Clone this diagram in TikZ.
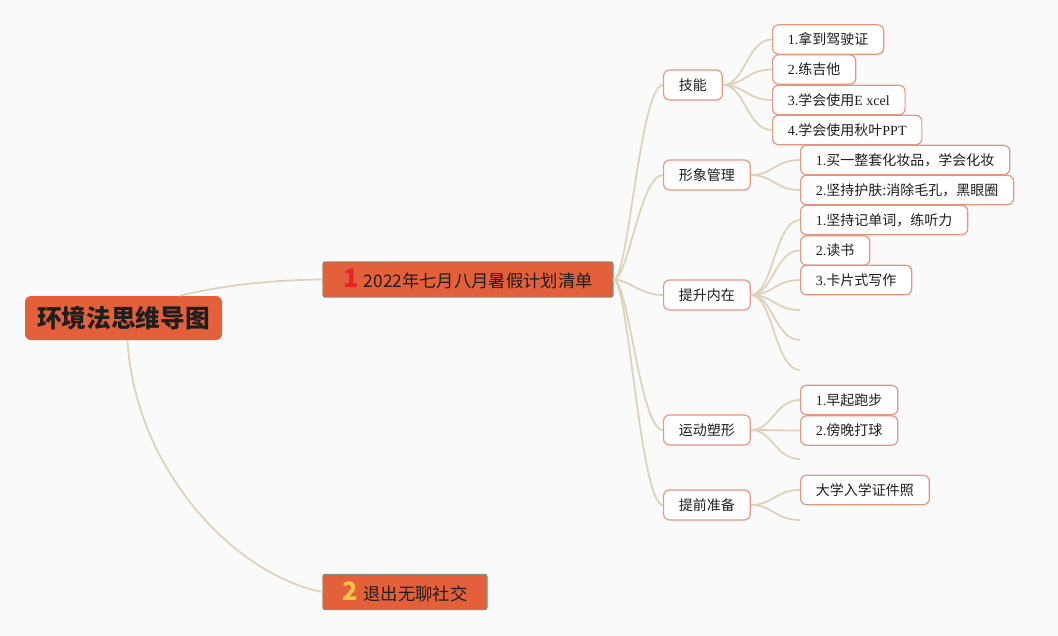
\documentclass[tikz,border=0pt]{standalone}
\usepackage{fontspec}
\setmainfont{Liberation Serif}
\newfontfamily\cjk{Noto Sans CJK SC}
\usepackage{xcolor}
\usepackage{tikz}
\usetikzlibrary{calc}

\definecolor{bgC}{HTML}{FAFAFA}
\definecolor{topC}{HTML}{E4603A}
\definecolor{lineC}{HTML}{DED1BA}
\definecolor{leafC}{HTML}{E8957F}
\definecolor{rimC}{HTML}{8E8C7C}
\definecolor{numA}{HTML}{E3242B}
\definecolor{numB}{HTML}{F6C443}
\definecolor{inkC}{HTML}{1E1E1E}

\tikzset{
  rootbox/.style={fill=topC, rounded corners=4.5pt, minimum width=147.75pt,
    minimum height=33pt, text=inkC, font=\cjk\bfseries\fontsize{18.5}{20}\selectfont},
  topicbox/.style={fill=topC, draw=rimC, line width=0.8pt, rounded corners=1.5pt,
    minimum height=26.5pt, text=inkC, font=\cjk\fontsize{13}{15}\selectfont},
  midbox/.style={fill=white, draw=leafC, line width=0.9pt, rounded corners=4.5pt,
    anchor=west, minimum height=22.5pt, inner xsep=11.5pt, text=inkC,
    font=\cjk\fontsize{10.5}{12}\selectfont},
  leafbox/.style={fill=white, draw=leafC, line width=0.9pt, rounded corners=4.5pt,
    anchor=west, minimum height=22pt, inner xsep=11.5pt, text=inkC,
    font=\fontsize{10.5}{12}\selectfont},
  link/.style={draw=lineC, line width=1.3pt},
}
\newcommand{\topicnum}[2]{{\color{#1}\bfseries\fontsize{19}{18}\selectfont #2}\hspace{4pt}}

\begin{document}
\begin{tikzpicture}[x=0.75pt, y=-0.75pt]
  % Canvas
  \fill[bgC] (0,0) rectangle (1058,636);
  \useasboundingbox (0,0) rectangle (1058,636);

  % Root and main topics
  \node[rootbox] (root) at (123.5,318) {环境法思维导图};
  \node[topicbox, minimum width=217.5pt] (plan) at (468,279.5) {\topicnum{numA}{1}2022年七月八月暑假计划清单};
  \node[topicbox, minimum width=123pt] (social) at (405,592) {\topicnum{numB}{2}退出无聊社交};

  % Sub topics
  \node[midbox] (skill) at (663,85) {技能};
  \node[midbox] (looks) at (663,175) {形象管理};
  \node[midbox] (mind) at (663,295) {提升内在};
  \node[midbox] (sport) at (663,430) {运动塑形};
  \node[midbox] (prep) at (663,505) {提前准备};

  % Skill items
  \node[leafbox] (skillA) at (772,39.5) {1.{\cjk 拿到驾驶证}};
  \node[leafbox] (skillB) at (772,69.5) {2.{\cjk 练吉他}};
  \node[leafbox] (skillC) at (772,100) {3.{\cjk 学会使用}E xcel};
  \node[leafbox] (skillD) at (772,130) {4.{\cjk 学会使用秋叶}PPT};

  % Looks items
  \node[leafbox] (looksA) at (800,160) {1.{\cjk 买一整套化妆品，学会化妆}};
  \node[leafbox] (looksB) at (800,190) {2.{\cjk 坚持护肤:消除毛孔，黑眼圈}};

  % Mind items
  \node[leafbox] (mindA) at (800,220) {1.{\cjk 坚持记单词，练听力}};
  \node[leafbox] (mindB) at (800,250.5) {2.{\cjk 读书}};
  \node[leafbox] (mindC) at (800,280) {3.{\cjk 卡片式写作}};
  \coordinate (mindD) at (800,310);
  \coordinate (mindE) at (800,340);
  \coordinate (mindF) at (800,370);

  % Sport items
  \node[leafbox] (sportA) at (800,400) {1.{\cjk 早起跑步}};
  \node[leafbox] (sportB) at (800,430.5) {2.{\cjk 傍晚打球}};
  \coordinate (sportC) at (800,459);

  % Prep items
  \node[leafbox] (prepA) at (800,490) {{\cjk 大学入学证件照}};
  \coordinate (prepB) at (800,520);

  % Root links
  \draw[link] ([xshift=42pt]root.north) .. controls (230,284) and (275,280) .. (plan.west);
  \draw[link] ([xshift=3pt]root.south) .. controls (135,470) and (235,575) .. (social.west);

  % Topic links
  \foreach \b in {skill,looks,mind,sport,prep}
    \draw[link] (plan.east) .. controls +(15,0) and +(-23,0) .. (\b.west);

  % Item links
  \foreach \a/\b in {skill/skillA,skill/skillB,skill/skillC,skill/skillD,
                     looks/looksA,looks/looksB,mind/mindA,mind/mindB,mind/mindC,
                     sport/sportA,sport/sportB,prep/prepA}
    \draw[link] (\a.east) .. controls +(22,0) and +(-25,0) .. (\b.west);
  \foreach \a/\b in {mind/mindD,mind/mindE,mind/mindF,sport/sportC,prep/prepB}
    \draw[link] (\a.east) .. controls +(22,0) and +(-25,0) .. (\b);
\end{tikzpicture}
\end{document}
